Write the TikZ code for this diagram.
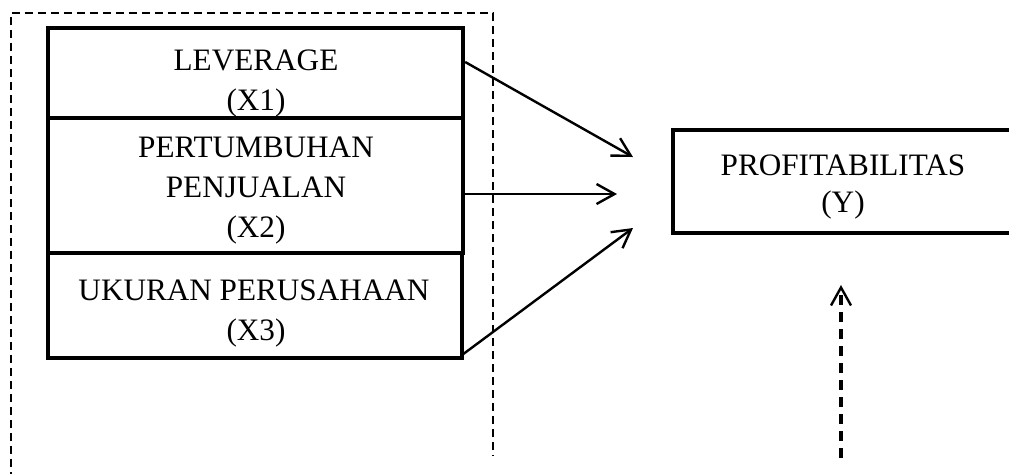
\documentclass[tikz,border=0pt]{standalone}
\usepackage{fontspec}
\setmainfont{Liberation Serif}
\usetikzlibrary{arrows.meta}
\begin{document}
\begin{tikzpicture}[x=0.5pt,y=-0.5pt,
  box/.style={draw, line width=2.2pt, inner sep=0pt},
  lbl/.style={anchor=base, inner sep=0pt, font=\fontsize{15.6}{18}\selectfont},
  arr/.style={line width=1.2pt, -{Straight Barb[length=9pt,width=10pt,line width=1.2pt]}},
  frameline/.style={line width=1pt, dash pattern=on 4pt off 2.5pt},
  darr/.style={line width=1.6pt, dash pattern=on 5pt off 3.5pt, -{Straight Barb[length=9pt,width=10pt,line width=1.2pt]}}]
\useasboundingbox (0,0) rectangle (1009,473);
% dashed frame
\coordinate (fa) at (11,480);
\coordinate (fb) at (11,13);
\coordinate (fc) at (493,13);
\coordinate (fd) at (493,456);
\draw[frameline] (fa) -- (fb) -- (fc) -- (fd);
% boxes
\node[box, minimum width=207.5pt, minimum height=45pt] (x1) at (255.5,73) {};
\node[box, minimum width=207.5pt, minimum height=67.5pt] (x2) at (255.5,185.5) {};
\node[box, minimum width=207pt, minimum height=52.5pt] (x3) at (255,305.5) {};
\node[box, minimum width=178.5pt, minimum height=51.5pt] (y) at (851.5,181.5) {};
% labels
\node[lbl] (x1a) at (256,70) {LEVERAGE};
\node[lbl] (x1b) at (256,110) {(X1)};
\node[lbl] (x2a) at (256,157) {PERTUMBUHAN};
\node[lbl] (x2b) at (256,197) {PENJUALAN};
\node[lbl] (x2c) at (256,237) {(X2)};
\node[lbl] (x3a) at (254,300) {UKURAN PERUSAHAAN};
\node[lbl] (x3b) at (256,340) {(X3)};
\node[lbl] (ya) at (843,175) {PROFITABILITAS};
\node[lbl] (yb) at (843,212) {(Y)};
% arrows
\coordinate (s1) at (x1.east |- 0,62);
\coordinate (s2) at (x2.east |- 0,194);
\coordinate (s3) at (462,355);
\coordinate (h1) at (633,157);
\coordinate (h2) at (617,194);
\coordinate (h3) at (633,228);
\draw[arr] (s1) -- (h1);
\draw[arr] (s2) -- (h2);
\draw[arr] (s3) -- (h3);
\coordinate (e0) at (841,458);
\coordinate (e1) at (841,285);
\draw[darr] (e0) -- (e1);
\end{tikzpicture}
\end{document}
